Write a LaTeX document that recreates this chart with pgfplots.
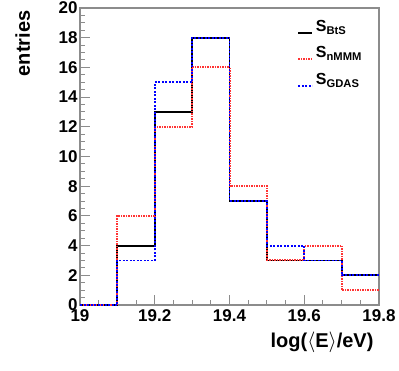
\documentclass[border=0pt]{standalone}
\usepackage{pgfplots}
\pgfplotsset{compat=1.18}
\usepackage{fontspec}
\setmainfont{Liberation Sans}
\definecolor{rootred}{rgb}{1,0.2,0.2}
\begin{document}
\begin{tikzpicture}[x=1pt,y=1pt]
\path[use as bounding box] (0,0) rectangle (399,370);
\begin{axis}[
  at={(80pt,65pt)}, anchor=south west,
  scale only axis, width=299pt, height=297pt,
  xmin=19, xmax=19.8, ymin=0, ymax=20,
  xtick={19,19.2,19.4,19.6,19.8},
  xticklabels={19,19.2,19.4,19.6,19.8},
  ytick={0,2,...,20},
  minor x tick num=3, minor y tick num=3,
  xtick pos=bottom, ytick pos=left, tick align=inside,
  major tick length=10pt, minor tick length=5pt,
  axis line style={black!45, line width=1.2pt},
  every tick/.style={black!45, line width=1pt},
  /pgf/number format/assume math mode=true,
  tick label style={font=\bfseries\fontsize{17}{17}\selectfont},
  xticklabel style={yshift=-1pt},
  yticklabel style={xshift=1pt},
  ylabel={\bfseries entries},
  ylabel style={font=\fontsize{20}{20}\selectfont, at={(rel axis cs:0,1)}, anchor=base east, yshift=50pt, xshift=1pt},
  xlabel={\bfseries log($\langle$E$\rangle$/eV)},
  xlabel style={font=\fontsize{20}{20}\selectfont, at={(rel axis cs:1,0)}, anchor=base east, xshift=-2pt, yshift=-42pt},
  legend style={at={(rel axis cs:0.726,0.962)}, anchor=north west, draw=none, fill=none,
    font=\bfseries\fontsize{16}{16}\selectfont, row sep=0pt, column sep=0pt, inner sep=0pt,
    nodes={inner sep=0pt, text height=12pt, text depth=14.5pt}},
  legend cell align=left,
  legend image code/.code={\draw[#1] (0pt,0pt) -- (14pt,0pt);},
  clip=false,
]
\addlegendimage{black, line width=1.8pt}
\addlegendentry{\,S\textsubscript{BtS}}
\addlegendimage{rootred, line width=2pt, dash pattern=on 1.5pt off 1pt}
\addlegendentry{\,S\textsubscript{nMMM}}
\addlegendimage{blue, line width=1.8pt, dash pattern=on 2pt off 1.5pt}
\addlegendentry{\,S\textsubscript{GDAS}}
\addplot[const plot, black, line width=1.8pt, forget plot] coordinates {
 (19.0,0) (19.1,4) (19.2,13) (19.3,18) (19.4,7) (19.5,3) (19.6,3) (19.7,2) (19.8,2)};
\addplot[const plot, rootred, line width=2pt, dash pattern=on 1.5pt off 1pt, forget plot] coordinates {
 (19.0,0) (19.1,6) (19.2,12) (19.3,16) (19.4,8) (19.5,3) (19.6,4) (19.7,1) (19.8,1)};
\addplot[const plot, blue, line width=1.8pt, dash pattern=on 2pt off 1.5pt, forget plot] coordinates {
 (19.0,0) (19.1,3) (19.2,15) (19.3,18) (19.4,7) (19.5,4) (19.6,3) (19.7,2) (19.8,2)};
\end{axis}
\end{tikzpicture}
\end{document}
